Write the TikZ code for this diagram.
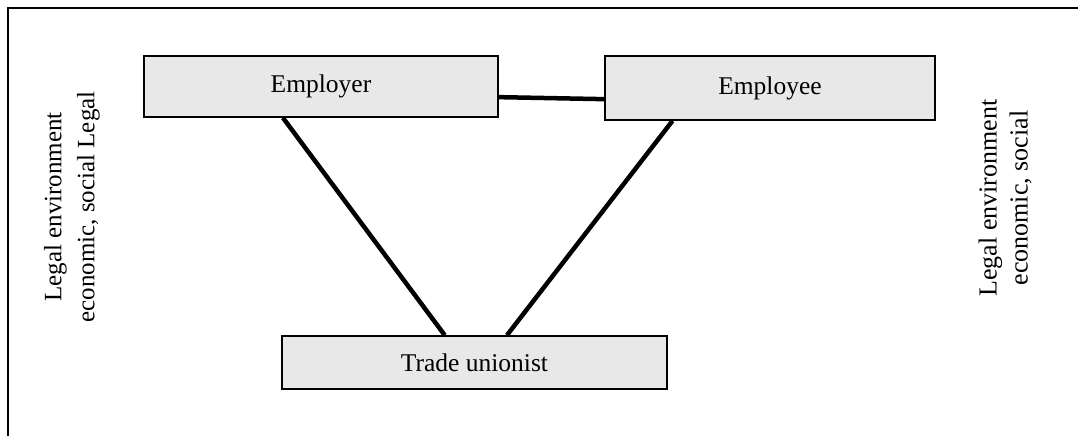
\documentclass[tikz,border=0pt]{standalone}
\usepackage{fontspec}
\setmainfont{Liberation Serif}
\usetikzlibrary{calc}
\begin{document}
\begin{tikzpicture}[x=1pt,y=-1pt,
  box/.style={draw=black,line width=1.6pt,fill=gray!18,inner sep=0pt,font=\fontsize{25.5}{30}\selectfont},
  link/.style={line width=4.5pt},
  side/.style={rotate=90,align=center,inner sep=0pt}]
\useasboundingbox (0,0) rectangle (1078,436);
\draw[line width=2.2pt] (8,436) -- (8,8) -- (1078,8);
\node[box,minimum width=354pt,minimum height=61pt] (er) at (321,86.5) {Employer};
\node[box,minimum width=330pt,minimum height=64pt] (ee) at (770,88) {Employee};
\node[box,minimum width=385pt,minimum height=53pt] (tu) at (474.5,362.5) {Trade unionist};
\node[side,font=\fontsize{25}{33}\selectfont] (lt) at (72,207) {Legal environment\\economic, social Legal};
\node[side,font=\fontsize{26}{31}\selectfont] (rt) at (1005,198) {Legal environment\\economic, social};
\coordinate (a1) at ($(er.south east)!0.33!(er.north east)$);
\coordinate (a2) at ($(ee.south west)!0.33!(ee.north west)$);
\coordinate (b1) at ($(er.south west)!0.393!(er.south east)$);
\coordinate (b2) at ($(tu.north west)!0.423!(tu.north east)$);
\coordinate (c1) at ($(ee.south west)!0.206!(ee.south east)$);
\coordinate (c2) at ($(tu.north west)!0.584!(tu.north east)$);
\draw[link] (a1) -- (a2);
\draw[link] (b1) -- (b2);
\draw[link] (c1) -- (c2);
\end{tikzpicture}
\end{document}
